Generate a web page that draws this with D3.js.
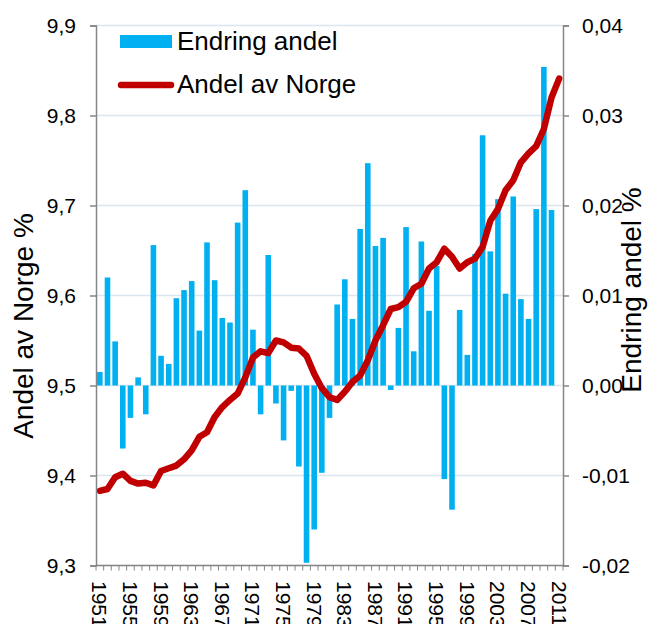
<!DOCTYPE html>
<html>
<head>
<meta charset="utf-8">
<script src="https://cdn.jsdelivr.net/npm/d3@7"></script>
<style>
  body { margin: 0; background: #fff; }
  svg { font-family: "Liberation Sans", Arial, sans-serif; }
</style>
</head>
<body>
<svg id="chart" width="652" height="624"></svg>
<script>
// years 1951..2011
var years = d3.range(1951, 2012);

// Endring andel (bars, right axis) - 2011 has no bar
var endring = [0.0015, 0.0120, 0.0049, -0.0070, -0.0036, 0.0009, -0.0032, 0.0156, 0.0033, 0.0024,
               0.0097, 0.0106, 0.0116, 0.0061, 0.0159, 0.0117, 0.0075, 0.0070, 0.0181, 0.0217,
               0.0062, -0.0032, 0.0145, -0.0020, -0.0061, -0.0006, -0.0090, -0.0197, -0.0160, -0.0097,
               -0.0036, 0.0090, 0.0118, 0.0074, 0.0174, 0.0247, 0.0155, 0.0164, -0.0005, 0.0064,
               0.0176, 0.0038, 0.0160, 0.0083, 0.0133, -0.0104, -0.0138, 0.0084, 0.0034, 0.0146,
               0.0278, 0.0149, 0.0207, 0.0102, 0.0210, 0.0096, 0.0074, 0.0196, 0.0354, 0.0195, null];

// Andel av Norge (line, left axis)
var andel = [9.383, 9.385, 9.398, 9.402, 9.394, 9.391, 9.392, 9.389, 9.405, 9.408,
             9.411, 9.418, 9.428, 9.443, 9.448, 9.465, 9.476, 9.484, 9.491, 9.509,
             9.531, 9.538, 9.536, 9.550, 9.548, 9.542, 9.541, 9.533, 9.513, 9.497,
             9.487, 9.484, 9.493, 9.504, 9.511, 9.528, 9.550, 9.567, 9.585, 9.587,
             9.593, 9.608, 9.613, 9.630, 9.637, 9.652, 9.643, 9.630, 9.637, 9.641,
             9.654, 9.683, 9.696, 9.717, 9.728, 9.748, 9.758, 9.766, 9.785, 9.820, 9.841];

var leftTicks = [9.3, 9.4, 9.5, 9.6, 9.7, 9.8, 9.9];
var rightTicks = [-0.02, -0.01, 0, 0.01, 0.02, 0.03, 0.04];
var labelYears = d3.range(1951, 2012, 4);

var svg = d3.select("#chart");
var plotLeft = 96, plotTop = 25.5, plotW = 467, plotH = 540;

var x = d3.scaleBand().domain(years).range([plotLeft, plotLeft + plotW]).paddingInner(0.27).paddingOuter(0.135);
var xs = d3.scaleBand().domain(years).range([plotLeft, plotLeft + plotW]); // slots for ticks/line
var yL = d3.scaleLinear().domain([9.3, 9.9]).range([plotTop + plotH, plotTop]);
var yR = d3.scaleLinear().domain([-0.02, 0.04]).range([plotTop + plotH, plotTop]);

var fmt1 = function(d){ return d3.format(".1f")(d).replace(".", ","); };
var fmt2 = function(d){ return d3.format(".2f")(d).replace(".", ",").replace("\u2212", "-"); };

// gridlines
svg.append("g").selectAll("line").data(leftTicks).enter().append("line")
  .attr("x1", plotLeft).attr("x2", plotLeft + plotW)
  .attr("y1", function(d){ return yL(d); }).attr("y2", function(d){ return yL(d); })
  .attr("stroke", "#dce6f1").attr("stroke-width", 1.5);

// bars
svg.append("g").selectAll("rect").data(years.map(function(y, i){ return {year: y, v: endring[i]}; })
    .filter(function(d){ return d.v != null; }))
  .enter().append("rect")
  .attr("x", function(d){ return x(d.year); })
  .attr("width", x.bandwidth())
  .attr("y", function(d){ return yR(Math.max(0, d.v)); })
  .attr("height", function(d){ return Math.abs(yR(d.v) - yR(0)); })
  .attr("fill", "#00b0f0");

// line
var line = d3.line()
  .x(function(d, i){ return xs(years[i]) + xs.bandwidth() / 2; })
  .y(function(d){ return yL(d); });
svg.append("path").datum(andel)
  .attr("d", line)
  .attr("fill", "none").attr("stroke", "#c00000").attr("stroke-width", 6.5)
  .attr("stroke-linejoin", "round").attr("stroke-linecap", "round");

// axes
var axisColor = "#868686";
var gL = svg.append("g").attr("transform", "translate(" + plotLeft + ",0)")
  .call(d3.axisLeft(yL).tickValues(leftTicks).tickFormat(fmt1).tickSize(6).tickPadding(14));
var gR = svg.append("g").attr("transform", "translate(" + (plotLeft + plotW) + ",0)")
  .call(d3.axisRight(yR).tickValues(rightTicks).tickFormat(fmt2).tickSize(6).tickPadding(13));
[gL, gR].forEach(function(g){
  g.select(".domain").attr("stroke", axisColor).attr("stroke-width", 1.5);
  g.selectAll(".tick line").attr("stroke", axisColor).attr("stroke-width", 1.5);
  g.selectAll("text").attr("font-size", 21).attr("fill", "#000").attr("font-family", "Liberation Sans, Arial, sans-serif");
});

// x axis: small ticks between years
var gX = svg.append("g");
gX.append("line").attr("x1", plotLeft).attr("x2", plotLeft + plotW)
  .attr("y1", plotTop + plotH).attr("y2", plotTop + plotH).attr("stroke", axisColor).attr("stroke-width", 1.5);
gX.selectAll("line.t").data(years.concat([2012])).enter().append("line")
  .attr("class", "t")
  .attr("x1", function(d){ return d === 2012 ? plotLeft + plotW : xs(d); })
  .attr("x2", function(d){ return d === 2012 ? plotLeft + plotW : xs(d); })
  .attr("y1", plotTop + plotH).attr("y2", plotTop + plotH + 5)
  .attr("stroke", axisColor).attr("stroke-width", 1);
gX.selectAll("text").data(labelYears).enter().append("text")
  .attr("transform", function(d){ return "translate(" + (xs(d) + xs.bandwidth() / 2) + "," + 581 + ") rotate(90)"; })
  .attr("dy", "0.36em")
  .attr("font-size", 21).attr("fill", "#000")
  .text(function(d){ return d; });

// axis titles
svg.append("text")
  .attr("transform", "translate(33,326) rotate(-90)")
  .attr("text-anchor", "middle").attr("font-size", 28).attr("fill", "#000")
  .text("Andel av Norge %");
svg.append("text")
  .attr("transform", "translate(641,290) rotate(-90)")
  .attr("text-anchor", "middle").attr("font-size", 28).attr("fill", "#000")
  .text("Endring andel %");

// legend
var lg = svg.append("g");
lg.append("rect").attr("x", 120).attr("y", 35).attr("width", 52).attr("height", 13).attr("fill", "#00b0f0");
lg.append("text").attr("x", 177).attr("y", 50).attr("font-size", 26).attr("fill", "#000").text("Endring andel");
lg.append("line").attr("x1", 121).attr("x2", 171).attr("y1", 85).attr("y2", 85)
  .attr("stroke", "#c00000").attr("stroke-width", 6.5).attr("stroke-linecap", "round");
lg.append("text").attr("x", 177).attr("y", 93).attr("font-size", 26).attr("fill", "#000").text("Andel av Norge");
</script>
</body>
</html>
